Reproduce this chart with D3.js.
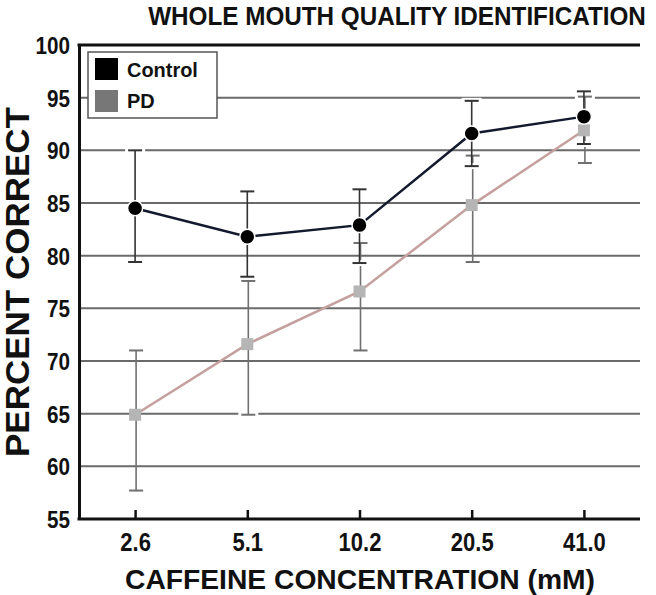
<!DOCTYPE html>
<html>
<head>
<meta charset="utf-8">
<script src="https://cdn.jsdelivr.net/npm/d3@7"></script>
<style>
  html, body { margin: 0; padding: 0; background: #fff; }
  svg { display: block; }
</style>
</head>
<body>
<div id="chart"></div>
<script>
const categories = ["2.6", "5.1", "10.2", "20.5", "41.0"];
const controlMean = [84.5, 81.8, 82.9, 91.6, 93.2];
const controlLow  = [79.4, 78.0, 79.3, 88.5, 90.6];
const controlHigh = [90.0, 86.1, 86.3, 94.7, 95.6];
const pdMean = [64.9, 71.6, 76.6, 84.8, 91.9];
const pdLow  = [57.7, 64.9, 71.0, 79.4, 88.8];
const pdHigh = [71.0, 77.6, 81.2, 89.5, 95.1];
const yTicks = [55, 60, 65, 70, 75, 80, 85, 90, 95, 100];
const seriesNames = ["Control", "PD"];

const W = 656, H = 595;
const margin = { left: 79, right: 16, top: 45, bottom: 76 };
const svg = d3.select("#chart").append("svg").attr("width", W).attr("height", H);

const x = d3.scalePoint().domain(categories).range([margin.left, W - margin.right]).padding(0.5);
const y = d3.scaleLinear().domain([55, 100]).range([H - margin.bottom, margin.top]);

const font = "Liberation Sans, Arial, sans-serif";

function squeeze(sel, k) {
  sel.each(function () {
    const len = this.getComputedTextLength();
    d3.select(this).attr("textLength", len * k).attr("lengthAdjust", "spacingAndGlyphs");
  });
}

// gridlines
svg.append("g").selectAll("line").data(yTicks.filter(d => d > 55 && d < 100)).join("line")
  .attr("x1", margin.left).attr("x2", W - margin.right)
  .attr("y1", d => y(d)).attr("y2", d => y(d))
  .attr("stroke", "#6a6a6a").attr("stroke-width", 2);

// y axis
const yAxis = svg.append("g").attr("transform", `translate(${margin.left},0)`)
  .call(d3.axisLeft(y).tickValues(yTicks).tickSize(0).tickPadding(9));
yAxis.select(".domain").attr("stroke", "#111").attr("stroke-width", 3);
yAxis.selectAll("text").attr("font-family", font).attr("font-weight", "bold")
  .attr("font-size", 24).attr("fill", "#111").attr("dy", "0.36em");
squeeze(yAxis.selectAll("text"), 0.86);

// top line
svg.append("line").attr("x1", margin.left - 1.5).attr("x2", W - margin.right)
  .attr("y1", y(100)).attr("y2", y(100)).attr("stroke", "#111").attr("stroke-width", 3);

// x axis
const xAxis = svg.append("g").attr("transform", `translate(0,${y(55)})`)
  .call(d3.axisBottom(x).tickSize(-9).tickPadding(14).tickSizeOuter(0));
xAxis.select(".domain").attr("stroke", "#111").attr("stroke-width", 3)
  .attr("d", `M${margin.left - 1.5},0H${W - margin.right}`);
xAxis.selectAll(".tick line").attr("stroke", "#111").attr("stroke-width", 2.5);
xAxis.selectAll("text").attr("font-family", font).attr("font-weight", "bold")
  .attr("font-size", 25).attr("fill", "#111");
squeeze(xAxis.selectAll("text"), 0.88);

// error bars
function errorBars(low, high, color, off) {
  const g = svg.append("g");
  categories.forEach((c, i) => {
    const cx = x(c) + off;
    [low[i], high[i]].forEach(v => {
      g.append("line").attr("x1", cx - 10).attr("x2", cx + 10)
        .attr("y1", y(v)).attr("y2", y(v)).attr("stroke", "#fff").attr("stroke-width", 6);
    });
    g.append("line").attr("x1", cx).attr("x2", cx)
      .attr("y1", y(low[i])).attr("y2", y(high[i])).attr("stroke", color).attr("stroke-width", 1.6);
    [low[i], high[i]].forEach(v => {
      g.append("line").attr("x1", cx - 7).attr("x2", cx + 7)
        .attr("y1", y(v)).attr("y2", y(v)).attr("stroke", color).attr("stroke-width", 2);
    });
  });
}
errorBars(pdLow, pdHigh, "#707070", 1);
errorBars(controlLow, controlHigh, "#333", 0);

const line = (vals) => d3.line().x((d, i) => x(categories[i])).y(d => y(d))(vals);

// PD series
svg.append("path").attr("d", line(pdMean)).attr("fill", "none")
  .attr("stroke", "#c4a09e").attr("stroke-width", 2.5);
svg.append("g").selectAll("rect").data(pdMean).join("rect")
  .attr("x", (d, i) => x(categories[i]) - 6).attr("y", d => y(d) - 6)
  .attr("width", 12).attr("height", 12).attr("fill", "#b5b5b5");

// Control series
svg.append("path").attr("d", line(controlMean)).attr("fill", "none")
  .attr("stroke", "#141a2e").attr("stroke-width", 2.5);
svg.append("g").selectAll("circle").data(controlMean).join("circle")
  .attr("cx", (d, i) => x(categories[i])).attr("cy", d => y(d)).attr("r", 7.5)
  .attr("fill", "#000").attr("stroke", "#fff").attr("stroke-width", 1.5);

// legend
const lg = svg.append("g");
lg.append("rect").attr("x", 88).attr("y", 52).attr("width", 129).attr("height", 66)
  .attr("fill", "#fff").attr("stroke", "#555").attr("stroke-width", 1.5);
const swatchColors = ["#000", "#777"];
seriesNames.forEach((n, i) => {
  lg.append("rect").attr("x", 95).attr("y", 58 + i * 32).attr("width", 23).attr("height", 22)
    .attr("fill", swatchColors[i]);
  const t = lg.append("text").attr("x", 127).attr("y", 77 + i * 31).text(n)
    .attr("font-family", font).attr("font-weight", "bold").attr("font-size", 21).attr("fill", "#111");
  squeeze(t, 0.95);
});

// title (horizontally scaled via transform)
const titleG = svg.append("g");
const title = titleG.append("text").attr("x", 0).attr("y", 0).attr("text-anchor", "middle")
  .attr("font-family", font).attr("font-weight", "bold").attr("font-size", 25)
  .attr("fill", "#111").text("WHOLE MOUTH QUALITY IDENTIFICATION");
const tLen = title.node().getComputedTextLength();
titleG.attr("transform", `translate(397,25) scale(${498 / tLen},1)`);

svg.append("text").attr("x", 360).attr("y", 589).attr("text-anchor", "middle")
  .attr("font-family", font).attr("font-weight", "bold").attr("font-size", 28)
  .attr("textLength", 470).attr("lengthAdjust", "spacingAndGlyphs")
  .attr("fill", "#111").text("CAFFEINE CONCENTRATION (mM)");

svg.append("text").attr("transform", `translate(29,${(y(55) + y(100)) / 2 + 0}) rotate(-90)`)
  .attr("text-anchor", "middle")
  .attr("font-family", font).attr("font-weight", "bold").attr("font-size", 33)
  .attr("textLength", 350).attr("lengthAdjust", "spacingAndGlyphs")
  .attr("fill", "#111").text("PERCENT CORRECT");
</script>
</body>
</html>
